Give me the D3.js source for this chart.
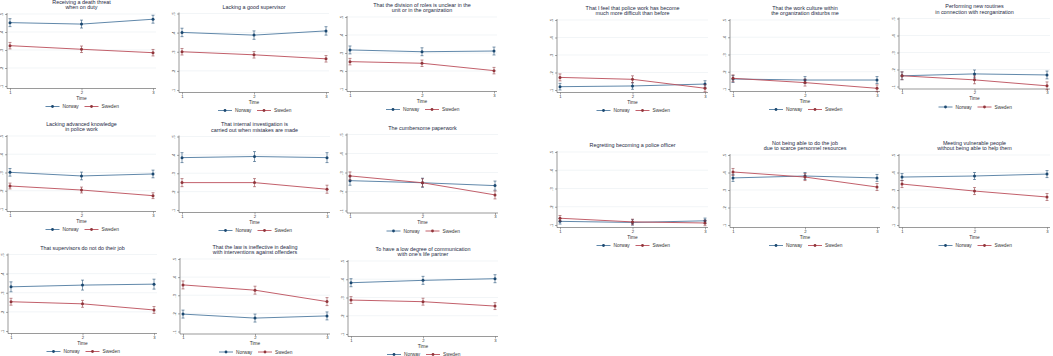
<!DOCTYPE html>
<html>
<head>
<meta charset="utf-8">
<script src="https://cdn.jsdelivr.net/npm/d3@7"></script>
<style>
	body { margin: 0; background: #fff; }
	svg { display: block; }
	text { font-family: "Liberation Sans", Arial, sans-serif; }
</style>
</head>
<body>
<div id="wrapper"></div>
<script>

// 1. Data

const times = [1, 2, 3];
const yTicks = [0.1, 0.2, 0.3, 0.4, 0.5];
const yTickLabels = [".1", ".2", ".3", ".4", ".5"];
const countries = ["Norway", "Sweden"];
const xLabel = "Time";

const titles = [
	"Receiving a death threat\nwhen on duty",
	"Lacking a good supervisor",
	"That the division of roles is unclear in the\nunit or in the organization",
	"Lacking advanced knowledge\nin police work",
	"That internal investigation is\ncarried out when mistakes are made",
	"The cumbersome paperwork",
	"That supervisors do not do their job",
	"That the law is ineffective in dealing\nwith interventions against offenders",
	"To have a low degree of communication\nwith one\u2019s life partner",
	"That I feel that police work has become\nmuch more difficult than before",
	"That the work culture within\nthe organization disturbs me",
	"Performing new routines\nin connection with reorganization",
	"Regretting becoming a police officer",
	"Not being able to do the job\ndue to scarce personnel resources",
	"Meeting vulnerable people\nwithout being able to help them"
];

// means at time 1, 2, 3
const norway = [
	[0.452, 0.444, 0.471],
	[0.401, 0.387, 0.409],
	[0.317, 0.307, 0.311],
	[0.301, 0.281, 0.292],
	[0.385, 0.391, 0.385],
	[0.257, 0.246, 0.231],
	[0.331, 0.340, 0.345],
	[0.196, 0.174, 0.186],
	[0.381, 0.394, 0.403],
	[0.119, 0.123, 0.134],
	[0.158, 0.152, 0.152],
	[0.163, 0.174, 0.168],
	[0.120, 0.114, 0.123],
	[0.369, 0.380, 0.369],
	[0.374, 0.380, 0.391]
];

const sweden = [
	[0.324, 0.304, 0.285],
	[0.300, 0.284, 0.263],
	[0.252, 0.243, 0.202],
	[0.226, 0.204, 0.173],
	[0.249, 0.249, 0.213],
	[0.282, 0.246, 0.182],
	[0.253, 0.242, 0.210],
	[0.357, 0.328, 0.265],
	[0.286, 0.277, 0.253],
	[0.172, 0.161, 0.110],
	[0.162, 0.137, 0.104],
	[0.163, 0.139, 0.104],
	[0.137, 0.117, 0.111],
	[0.403, 0.374, 0.317],
	[0.334, 0.294, 0.260]
];

// half width of the confidence intervals
const ciNorway = [0.022, 0.022, 0.022, 0.021, 0.027, 0.024, 0.026, 0.022, 0.022, 0.019, 0.020, 0.023, 0.015, 0.020, 0.020];
const ciSweden = [0.018, 0.017, 0.018, 0.016, 0.022, 0.021, 0.018, 0.022, 0.019, 0.020, 0.020, 0.023, 0.015, 0.020, 0.020];

// 2. Layout (pixel position of time 1, time 3, top tick, bottom tick)

const panels = [
	{x0: 10,  x3: 153,  yTop: 14,    yBot: 86},
	{x0: 182, x3: 326,  yTop: 13.5,  yBot: 90},
	{x0: 350, x3: 494,  yTop: 17,    yBot: 89},
	{x0: 10,  x3: 153,  yTop: 136,   yBot: 209},
	{x0: 182, x3: 327,  yTop: 136.5, yBot: 210},
	{x0: 350, x3: 495,  yTop: 134.5, yBot: 210.5},
	{x0: 11,  x3: 154,  yTop: 254.5, yBot: 331},
	{x0: 183, x3: 327,  yTop: 259,   yBot: 331.5},
	{x0: 351, x3: 495,  yTop: 261,   yBot: 334},
	{x0: 560, x3: 705,  yTop: 20,    yBot: 90},
	{x0: 733, x3: 877,  yTop: 20,    yBot: 89},
	{x0: 902, x3: 1047, yTop: 18.5,  yBot: 86.5},
	{x0: 560, x3: 705,  yTop: 152,   yBot: 225},
	{x0: 733, x3: 877,  yTop: 155,   yBot: 225},
	{x0: 902, x3: 1047, yTop: 155,   yBot: 225}
];

const lineColors = ["#4f7aa0", "#bb4e5a"];
const markColors = ["#1a476f", "#90353b"];

// 3. Drawing

const svg = d3.select("#wrapper")
	.append("svg")
	.attr("width", 1053)
	.attr("height", 356);

panels.forEach(function(p, i) {

	const x = d3.scaleLinear().domain([1, 3]).range([p.x0, p.x3]);
	const y = d3.scaleLinear().domain([0.1, 0.5]).range([p.yBot, p.yTop]);
	const g = svg.append("g");
	const axisX = p.x0 - 3;
	const axisY = p.yBot + 2.5;

	// grid
	g.selectAll("line.grid")
		.data(yTicks.slice(1))
		.enter()
		.append("line")
		.attr("class", "grid")
		.attr("x1", axisX)
		.attr("x2", p.x3 + 3)
		.attr("y1", d => y(d))
		.attr("y2", d => y(d))
		.style("stroke", "#eaeef2")
		.style("stroke-width", 0.6);

	// y axis
	const yAxis = g.append("g")
		.attr("transform", `translate(${axisX},0)`)
		.call(d3.axisLeft(y).tickValues(yTicks).tickSize(2).tickFormat((d, k) => yTickLabels[k]));
	yAxis.select(".domain").remove();
	yAxis.append("line")
		.attr("y1", p.yTop - 1)
		.attr("y2", axisY)
		.style("stroke", "#555")
		.style("stroke-width", 0.6);
	yAxis.selectAll(".tick line").style("stroke", "#555").style("stroke-width", 0.5);
	yAxis.selectAll(".tick text")
		.attr("x", 0)
		.attr("dy", 0)
		.attr("transform", "translate(-4.5,0) rotate(-90)")
		.style("text-anchor", "middle")
		.style("font-size", "4px")
		.style("fill", "#333");

	// x axis
	const xAxis = g.append("g")
		.attr("transform", `translate(0,${axisY})`)
		.call(d3.axisBottom(x).tickValues(times).tickSize(2).tickFormat(d3.format("d")));
	xAxis.select(".domain").remove();
	xAxis.append("line")
		.attr("x1", axisX)
		.attr("x2", p.x3 + 3)
		.style("stroke", "#555")
		.style("stroke-width", 0.6);
	xAxis.selectAll(".tick line").style("stroke", "#555").style("stroke-width", 0.5);
	xAxis.selectAll(".tick text")
		.attr("y", 2.3)
		.attr("dy", "0.71em")
		.style("font-size", "4.2px")
		.style("fill", "#333");

	const cx = (p.x0 + p.x3) / 2;

	g.append("text")
		.attr("x", cx)
		.attr("y", p.yBot + 12)
		.attr("dy", "0.35em")
		.style("text-anchor", "middle")
		.style("font-size", "4.8px")
		.style("fill", "#333")
		.text(xLabel);

	// title
	const lines = titles[i].split("\n");
	g.append("g")
		.selectAll("text")
		.data(lines)
		.enter()
		.append("text")
		.attr("x", cx)
		.attr("y", (d, k) => p.yTop - 6.5 - (lines.length - 1 - k) * 5.7)
		.attr("dy", "0.35em")
		.style("text-anchor", "middle")
		.style("font-size", "5.4px")
		.style("fill", "#1e2a44")
		.text(d => d);

	// series
	const series = [
		{values: norway[i], ci: ciNorway[i]},
		{values: sweden[i], ci: ciSweden[i]}
	];

	series.forEach(function(s, k) {
		const pts = times.map((t, j) => ({t: t, v: s.values[j]}));

		g.append("path")
			.datum(pts)
			.attr("d", d3.line().x(d => x(d.t)).y(d => y(d.v)))
			.style("fill", "none")
			.style("stroke", lineColors[k])
			.style("stroke-width", 0.9);

		const bars = g.selectAll("g.ci" + k)
			.data(pts)
			.enter()
			.append("g")
			.attr("class", "ci" + k)
			.style("stroke", markColors[k])
			.style("stroke-width", 0.55);
		bars.append("line")
			.attr("x1", d => x(d.t)).attr("x2", d => x(d.t))
			.attr("y1", d => y(d.v - s.ci)).attr("y2", d => y(d.v + s.ci));
		bars.append("line")
			.attr("x1", d => x(d.t) - 1.5).attr("x2", d => x(d.t) + 1.5)
			.attr("y1", d => y(d.v - s.ci)).attr("y2", d => y(d.v - s.ci));
		bars.append("line")
			.attr("x1", d => x(d.t) - 1.5).attr("x2", d => x(d.t) + 1.5)
			.attr("y1", d => y(d.v + s.ci)).attr("y2", d => y(d.v + s.ci));

		g.selectAll("circle.m" + k)
			.data(pts)
			.enter()
			.append("circle")
			.attr("class", "m" + k)
			.attr("cx", d => x(d.t))
			.attr("cy", d => y(d.v))
			.attr("r", 1.5)
			.style("fill", markColors[k]);
	});

	// legend
	const ly = p.yBot + 20.5;
	const legend = g.append("g")
		.attr("transform", `translate(${cx - 36},${ly})`);
	countries.forEach(function(c, k) {
		const item = legend.append("g").attr("transform", `translate(${k * 39},0)`);
		item.append("line")
			.attr("x1", 0).attr("x2", 14)
			.style("stroke", lineColors[k])
			.style("stroke-width", 0.9);
		item.append("circle")
			.attr("cx", 7).attr("r", 1.4)
			.style("fill", markColors[k]);
		item.append("text")
			.attr("x", 17)
			.attr("dy", "0.35em")
			.style("font-size", "4.8px")
			.style("fill", "#333")
			.text(c);
	});
});

</script>
</body>
</html>
